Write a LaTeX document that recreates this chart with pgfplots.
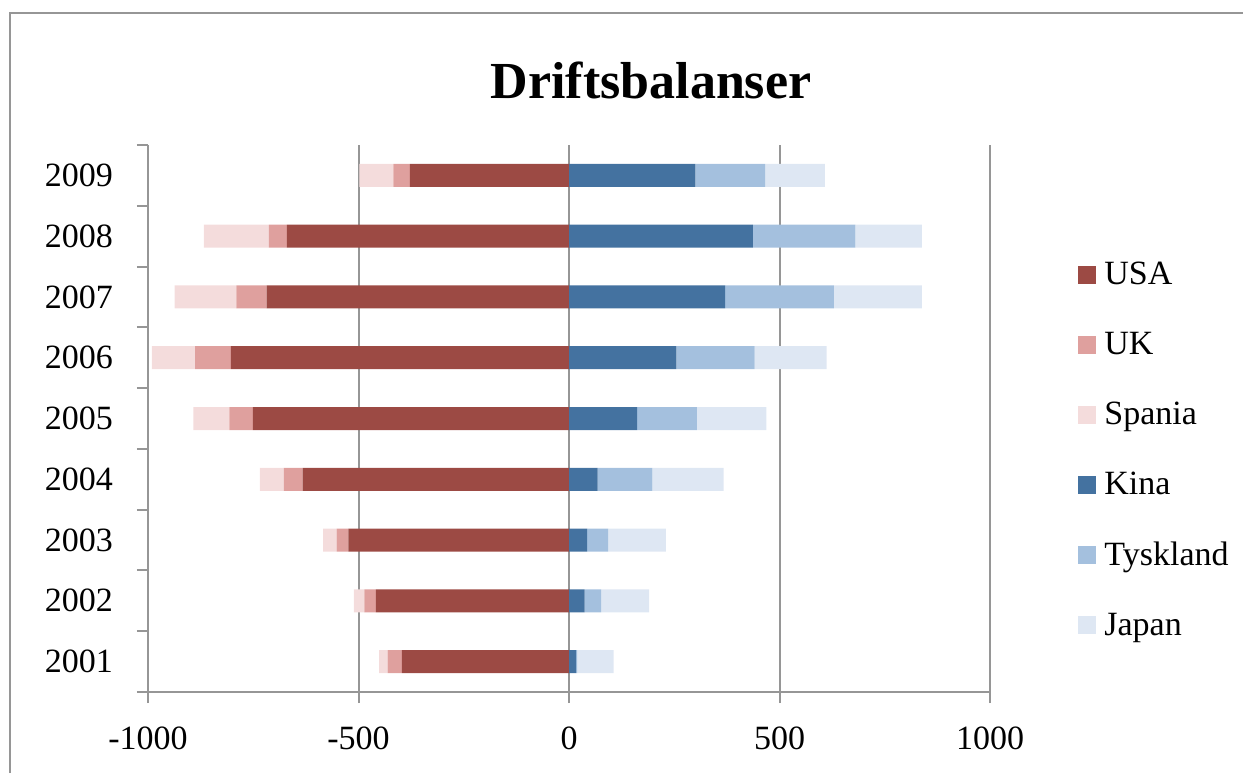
\documentclass[border=0pt]{standalone}
\usepackage{pgfplots}
\pgfplotsset{compat=1.18}
\usepackage{fontspec}
\setmainfont{Liberation Serif}
\definecolor{usa}{RGB}{156,74,68}
\definecolor{uk}{RGB}{223,160,158}
\definecolor{spania}{RGB}{244,220,220}
\definecolor{kina}{RGB}{68,114,160}
\definecolor{tysk}{RGB}{164,192,222}
\definecolor{japan}{RGB}{222,231,243}
\definecolor{axgray}{RGB}{150,150,150}
\pgfplotsset{sqleg/.style={legend image code/.code={\fill[##1] (0pt,-4.5pt) rectangle (9pt,4.5pt);}}}
\begin{document}
\begin{tikzpicture}
\useasboundingbox (0,0) rectangle (621.5pt,386.5pt);
\draw[axgray, line width=1pt] (5pt,0pt) -- (5pt,380pt) -- (621.5pt,380pt);
\node[font=\fontsize{26}{30}\selectfont\bfseries] at (325.5pt,346.5pt) {Driftsbalanser};
\begin{axis}[
  at={(74pt,40.5pt)}, anchor=south west,
  scale only axis, width=421pt, height=273.5pt,
  xmin=-1000, xmax=1000, ymin=0.5, ymax=9.5,
  xbar stacked, bar width=11.5pt,
  axis lines=left,
  axis line style={-, axgray, line width=1pt},
  tick align=outside,
  major tick length=5.5pt,
  tick style={axgray, line width=1pt},
  xtick={-1000,-500,0,500,1000},
  xmajorgrids, grid style={axgray, line width=1pt},
  ytick={0.5,1.5,...,9.5}, yticklabels={},
  extra y ticks={1,2,3,4,5,6,7,8,9},
  extra y tick labels={2001,2002,2003,2004,2005,2006,2007,2008,2009},
  extra y tick style={major tick length=0pt, yticklabel style={xshift=-14pt}},
  /pgf/number format/assume math mode=true,
  /pgf/number format/1000 sep={},
  ticklabel style={font=\fontsize{17}{19}\selectfont},
  xticklabel style={yshift=-8.5pt},
]
\addplot[fill=usa, draw=none] coordinates {(-397,1) (-459,2) (-524,3) (-633,4) (-751,5) (-803,6) (-718,7) (-670,8) (-378,9)};
\addplot[fill=uk, draw=none] coordinates {(-34,1) (-27,2) (-28,3) (-44,4) (-56,5) (-85,6) (-72,7) (-43,8) (-39,9)};
\addplot[fill=spania, draw=none] coordinates {(-20,1) (-25,2) (-32,3) (-57,4) (-85,5) (-103,6) (-147,7) (-154,8) (-81,9)};
\end{axis}
\begin{axis}[
  at={(74pt,40.5pt)}, anchor=south west,
  scale only axis, width=421pt, height=273.5pt,
  xmin=-1000, xmax=1000, ymin=0.5, ymax=9.5,
  xbar stacked, bar width=11.5pt,
  hide axis,
  legend style={at={(1.1045,0.442)}, anchor=west, draw=none, fill=none,
    inner sep=0pt, font=\fontsize{17}{19}\selectfont, row sep=14.2pt,
    nodes={inner sep=4pt}},
  legend cell align=left,
]
\addlegendimage{sqleg, fill=usa, draw=none}
\addlegendentry{USA}
\addlegendimage{sqleg, fill=uk, draw=none}
\addlegendentry{UK}
\addlegendimage{sqleg, fill=spania, draw=none}
\addlegendentry{Spania}
\addplot[sqleg, fill=kina, draw=none] coordinates {(17,1) (37,2) (43,3) (68,4) (162,5) (255,6) (371,7) (437,8) (300,9)};
\addlegendentry{Kina}
\addplot[sqleg, fill=tysk, draw=none] coordinates {(2,1) (39,2) (50,3) (130,4) (142,5) (186,6) (258,7) (243,8) (166,9)};
\addlegendentry{Tyskland}
\addplot[sqleg, fill=japan, draw=none] coordinates {(87,1) (114,2) (137,3) (169,4) (165,5) (171,6) (209,7) (158,8) (142,9)};
\addlegendentry{Japan}
\end{axis}
\end{tikzpicture}
\end{document}
